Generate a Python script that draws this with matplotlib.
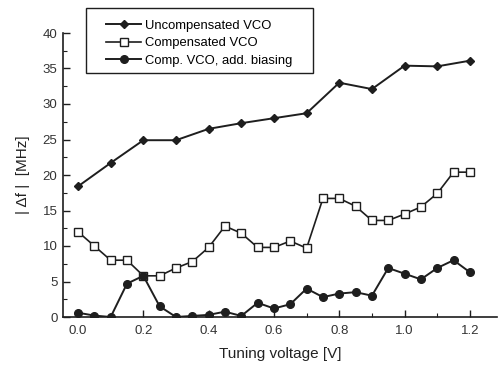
import matplotlib
matplotlib.use("Agg")
import matplotlib.pyplot as plt
from matplotlib.ticker import MultipleLocator
from matplotlib.patches import Rectangle

plt.rcParams['font.family'] = ['Liberation Sans', 'DejaVu Sans']

x_uncomp = [0.0, 0.1, 0.2, 0.3, 0.4, 0.5, 0.6, 0.7, 0.8, 0.9, 1.0, 1.1, 1.2]
y_uncomp = [18.4, 21.7, 24.9, 24.9, 26.5, 27.3, 28.0, 28.7, 33.0, 32.1, 35.4, 35.3, 36.1]

x_fine = [0.0, 0.05, 0.1, 0.15, 0.2, 0.25, 0.3, 0.35, 0.4, 0.45, 0.5, 0.55, 0.6,
          0.65, 0.7, 0.75, 0.8, 0.85, 0.9, 0.95, 1.0, 1.05, 1.1, 1.15, 1.2]
y_comp = [12.0, 10.0, 8.0, 8.0, 5.8, 5.8, 6.9, 7.8, 9.8, 12.8, 11.8, 9.8, 9.8,
          10.7, 9.7, 16.7, 16.7, 15.6, 13.6, 13.6, 14.5, 15.5, 17.4, 20.4, 20.4]
y_bias = [0.6, 0.2, 0.0, 4.7, 5.8, 1.5, 0.0, 0.15, 0.3, 0.75, 0.15, 2.0, 1.2,
          1.8, 4.0, 2.8, 3.3, 3.5, 3.0, 6.9, 6.1, 5.3, 6.9, 8.0, 6.3]

labels = ["Uncompensated VCO", "Compensated VCO", "Comp. VCO, add. biasing"]
x_label = "Tuning voltage [V]"
y_label = "| \u0394f |  [MHz]"

col = "#1e1e1e"
W, H = 499, 369
fig = plt.figure(figsize=(W/100, H/100), dpi=100)
ax = fig.add_axes([63/W, (H-317)/H, (497-63)/W, (317-33)/H])

l1, = ax.plot(x_uncomp, y_uncomp, color=col, lw=1.4, marker='D', ms=4.5,
              mfc=col, mec=col, label=labels[0])
l2, = ax.plot(x_fine, y_comp, color=col, lw=1.2, marker='s', ms=5.5,
              mfc='white', mec=col, mew=1.0, label=labels[1])
l3, = ax.plot(x_fine, y_bias, color=col, lw=1.4, marker='o', ms=5.5,
              mfc=col, mec=col, label=labels[2])

ax.set_xlim(-0.046, 1.283)
ax.set_ylim(0, 40)
ax.spines['top'].set_visible(False)
ax.spines['right'].set_visible(False)
for s in ('left', 'bottom'):
    ax.spines[s].set_color(col)
    ax.spines[s].set_linewidth(1.2)
ax.xaxis.set_major_locator(MultipleLocator(0.2))
ax.xaxis.set_minor_locator(MultipleLocator(0.1))
ax.yaxis.set_major_locator(MultipleLocator(5))
ax.yaxis.set_minor_locator(MultipleLocator(2.5))
ax.xaxis.set_major_formatter(plt.FuncFormatter(lambda v, p: f"{v:.1f}"))
ax.tick_params(axis='both', which='major', direction='in', length=5, width=1,
               colors=col, labelsize=9.5, labelcolor='#333333')
ax.tick_params(axis='both', which='minor', direction='in', length=3, width=0.8, colors=col)
ax.tick_params(axis='x', pad=6)
ax.tick_params(axis='y', pad=4)

ax.set_xlabel(x_label, fontsize=11, color='#222222', labelpad=7)
ax.set_ylabel(y_label, fontsize=11, color='#222222', labelpad=9)

# legend frame
fig.patches.append(Rectangle((86/W, 1-73/H), (313-86)/W, (73-8)/H,
                             transform=fig.transFigure, fill=False,
                             edgecolor=col, lw=1.0))
leg = fig.legend(handles=[l1, l2, l3], labels=labels,
                 loc='upper left', bbox_to_anchor=(106/W, 1-19.5/H),
                 fontsize=9.4, frameon=False,
                 handlelength=2.7, borderpad=0, labelspacing=0.42,
                 handletextpad=0.25, borderaxespad=0)

fig.savefig("out.png", dpi=100)
